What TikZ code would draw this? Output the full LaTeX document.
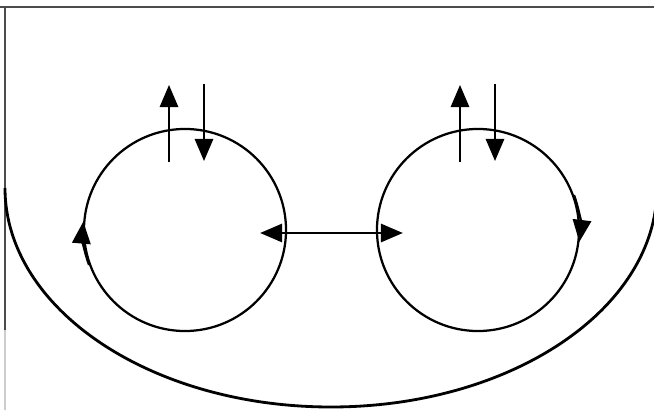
\documentclass[tikz,border=0pt]{standalone}
\usepackage{tikz}
\usetikzlibrary{
  arrows.meta,
  calc
}

\begin{document}
\begin{tikzpicture}[
      x=0.025cm, y=0.025cm,
      >={Triangle[length=0.55cm, width=0.46cm]},
      anel/.style={draw, circle, line width=1.6pt, minimum size=5.05cm, inner sep=0pt},
      fluxo/.style={->, line width=1.2pt},
      giro/.style={->, line width=1.6pt},
      cuba/.style={line width=2pt},
      moldura/.style={line width=1.2pt, gray!60!black}
  ]
      \useasboundingbox (0,0) rectangle (654,410);

      % Moldura e cuba
      \draw[moldura] (0,403) -- (654,403);
      \draw[moldura] (5,403) -- (5,80);
      \draw[moldura, gray!40] (5,80) -- (5,0);
      \begin{scope}
        \clip (0,0) rectangle (654,410);
        \draw[cuba] (5,222) arc[start angle=180, end angle=360, x radius=326, y radius=219];
      \end{scope}

      % Anéis
      \node[anel] (esq) at (185,180) {};
      \node[anel] (dir) at (478,180) {};

      % Entrada e saída no topo de cada anel
      \coordinate (esqS0) at ($(esq.center)+(-16,68)$);
      \coordinate (esqS1) at ($(esq.center)+(-16,145)$);
      \coordinate (esqE0) at ($(esq.center)+(19,146)$);
      \coordinate (esqE1) at ($(esq.center)+(19,69)$);
      \coordinate (dirS0) at ($(dir.center)+(-18,68)$);
      \coordinate (dirS1) at ($(dir.center)+(-18,145)$);
      \coordinate (dirE0) at ($(dir.center)+(17,146)$);
      \coordinate (dirE1) at ($(dir.center)+(17,69)$);
      \draw[fluxo] (esqS0) -- (esqS1);
      \draw[fluxo] (esqE0) -- (esqE1);
      \draw[fluxo] (dirS0) -- (dirS1);
      \draw[fluxo] (dirE0) -- (dirE1);

      % Troca entre os anéis
      \coordinate (trocaA) at ($(esq.east)+(-27,-3)$);
      \coordinate (trocaB) at ($(dir.west)+(27,-3)$);
      \draw[fluxo, <->] (trocaA) -- (trocaB);

      % Sentido de giro
      \draw[giro] (esq.200) arc[start angle=200, end angle=175, radius=101];
      \draw[giro] (dir.20) arc[start angle=20, end angle=-7, radius=101];
  \end{tikzpicture}
\end{document}
